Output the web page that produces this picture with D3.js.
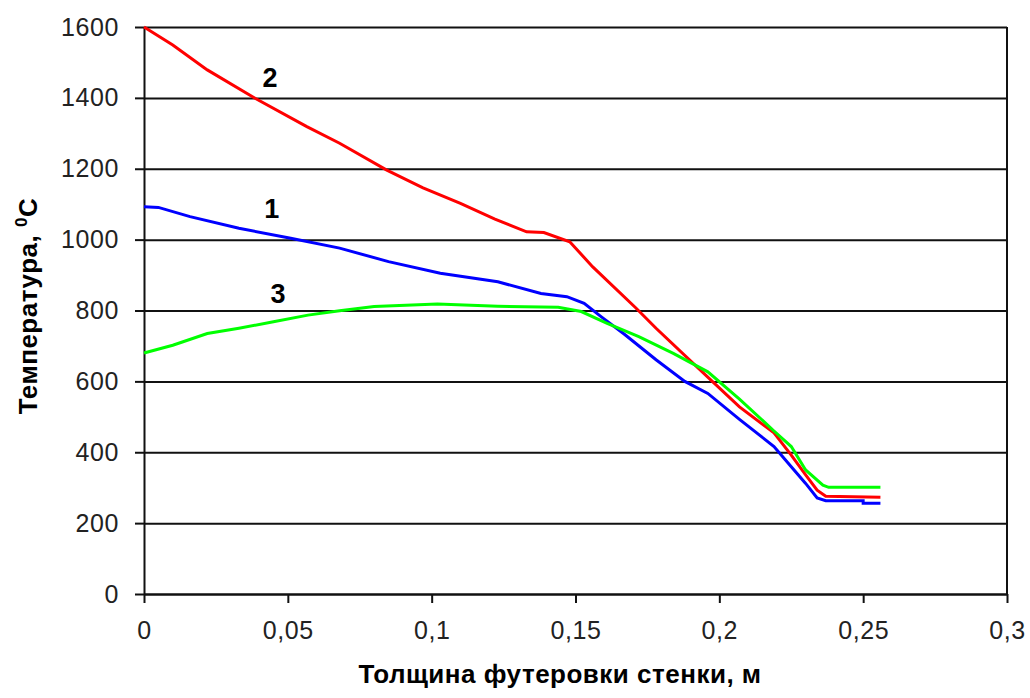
<!DOCTYPE html>
<html>
<head>
<meta charset="utf-8">
<script src="https://cdn.jsdelivr.net/npm/d3@7"></script>
<style>
  body { margin: 0; background: #fff; }
  #root { width: 1030px; height: 698px; }
  text { font-family: "Liberation Sans", Arial, sans-serif; }
</style>
</head>
<body>
<div id="root"></div>
<script>
// Curve 1 (blue)
const x1 = [0, 0.005, 0.016, 0.033, 0.051, 0.068, 0.085, 0.103, 0.123, 0.138, 0.147, 0.153, 0.159, 0.167, 0.178, 0.188, 0.196, 0.207, 0.219, 0.225, 0.230, 0.234, 0.237, 0.250, 0.250, 0.256];
const t1 = [1093, 1091, 1065, 1032, 1004, 976, 938, 905, 881, 848, 839, 820, 782, 733, 661, 600, 566, 493, 416, 359, 312, 271, 263, 263, 256, 256];
// Curve 2 (red)
const x2 = [0, 0.010, 0.022, 0.0386, 0.0566, 0.068, 0.0844, 0.097, 0.110, 0.122, 0.133, 0.139, 0.148, 0.156, 0.171, 0.178, 0.197, 0.207, 0.219, 0.225, 0.230, 0.234, 0.237, 0.256];
const t2 = [1600, 1549, 1479, 1399, 1319, 1272, 1196, 1146, 1102, 1058, 1022, 1020, 994, 923, 807, 750, 604, 528, 455, 392, 336, 293, 276, 273];
// Curve 3 (green)
const x3 = [0, 0.010, 0.022, 0.033, 0.045, 0.057, 0.068, 0.080, 0.102, 0.123, 0.144, 0.152, 0.161, 0.172, 0.184, 0.196, 0.207, 0.219, 0.225, 0.230, 0.236, 0.238, 0.256];
const t3 = [680, 702, 735, 750, 768, 787, 799, 811, 818, 812, 809, 797, 764, 726, 679, 627, 550, 460, 416, 350, 307, 301, 301];

const curveNames = ['1', '2', '3'];
const curveColors = ['#0000ff', '#ff0000', '#00ff00'];
const labelX = [0.0444, 0.0438, 0.0466];
const labelY = [1088, 1459, 848];

const xTicks = [0, 0.05, 0.1, 0.15, 0.2, 0.25, 0.3];
const yTicks = [0, 200, 400, 600, 800, 1000, 1200, 1400, 1600];

const root = document.getElementById('root');
const padding = { top: 27, right: 23, bottom: 104, left: 144 };
const width = 1030 - padding.left - padding.right;
const height = 698 - padding.top - padding.bottom;

const svg = d3.select(root)
    .append('svg')
    .attr('width', 1030)
    .attr('height', 698)
    .append('g')
    .attr('transform', `translate(${padding.left}, ${padding.top})`);

const xScale = d3.scaleLinear().domain([0, 0.3]).range([0, width]);
const yScale = d3.scaleLinear().domain([0, 1600]).range([height, 0]);

const commaFmt = d => String(d).replace('.', ',');

// gridlines
svg.append('g')
    .attr('class', 'grid')
    .call(d3.axisLeft(yScale).tickValues(yTicks).tickSize(-width).tickFormat(''))
    .call(g => g.select('.domain').remove())
    .call(g => g.selectAll('line').attr('stroke', '#111').attr('stroke-width', 2));

// right border
svg.append('line')
    .attr('x1', width).attr('x2', width)
    .attr('y1', 0).attr('y2', height)
    .attr('stroke', '#111').attr('stroke-width', 2);

// axes
const xAxis = svg.append('g')
    .attr('transform', `translate(0,${height})`)
    .call(d3.axisBottom(xScale).tickValues(xTicks).tickSize(9).tickSizeOuter(0).tickPadding(18).tickFormat(commaFmt));
const yAxis = svg.append('g')
    .call(d3.axisLeft(yScale).tickValues(yTicks).tickSize(9).tickSizeOuter(0).tickPadding(16).tickFormat(d => String(d)));

[xAxis, yAxis].forEach(ax => {
    ax.select('.domain').attr('stroke', '#111').attr('stroke-width', 2);
    ax.selectAll('.tick line').attr('stroke', '#111').attr('stroke-width', 2);
    ax.selectAll('.tick text')
        .attr('font-size', 25)
        .attr('letter-spacing', 0.6)
        .attr('fill', '#222')
        .attr('font-family', '"Liberation Sans", Arial, sans-serif');
});

// curves
const line = d3.line()
    .x(d => xScale(d[0]))
    .y(d => yScale(d[1]));

const series = [
    d3.zip(x1, t1),
    d3.zip(x2, t2),
    d3.zip(x3, t3)
];

svg.selectAll('.curve')
    .data(series)
    .enter()
    .append('path')
    .attr('class', 'curve')
    .attr('d', line)
    .attr('fill', 'none')
    .attr('stroke', (d, i) => curveColors[i])
    .attr('stroke-width', 3);

// curve numbers
svg.selectAll('.curve-label')
    .data(curveNames)
    .enter()
    .append('text')
    .attr('class', 'curve-label')
    .attr('x', (d, i) => xScale(labelX[i]))
    .attr('y', (d, i) => yScale(labelY[i]))
    .attr('dy', '0.36em')
    .attr('text-anchor', 'middle')
    .attr('font-size', 27)
    .attr('font-weight', 'bold')
    .attr('fill', '#000')
    .text(d => d);

// axis titles
svg.append('text')
    .attr('x', 560 - padding.left)
    .attr('y', height + 89)
    .attr('text-anchor', 'middle')
    .attr('font-size', 26)
    .attr('letter-spacing', 0.5)
    .attr('font-weight', 'bold')
    .text('Толщина футеровки стенки, м');

const yTitle = svg.append('text')
    .attr('text-anchor', 'middle')
    .attr('font-size', 26)
    .attr('letter-spacing', 0.5)
    .attr('font-weight', 'bold')
    .attr('transform', `translate(${37 - padding.left}, ${306 - padding.top}) rotate(-90)`);
yTitle.append('tspan').text('Температура, ');
yTitle.append('tspan').attr('font-size', 17).attr('dy', '-0.6em').text('0');
yTitle.append('tspan').attr('dy', '0.4em').text('C');
</script>
</body>
</html>
